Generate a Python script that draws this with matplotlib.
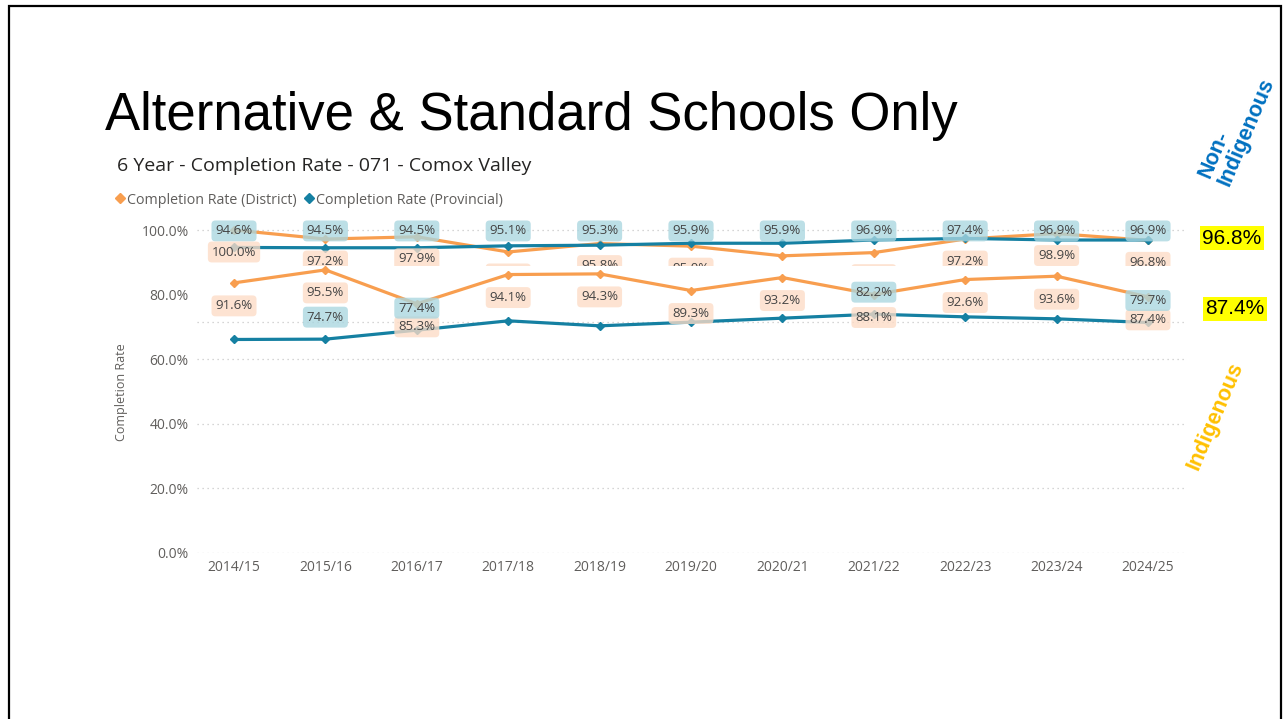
import matplotlib.pyplot as plt
from matplotlib.lines import Line2D
from matplotlib.patches import Rectangle

years = ['2014/15', '2015/16', '2016/17', '2017/18', '2018/19', '2019/20',
         '2020/21', '2021/22', '2022/23', '2023/24', '2024/25']

# Non-Indigenous chart (the one the y axis belongs to)
dist_non = [100.0, 97.2, 97.9, 93.2, 95.8, 95.0, 92.0, 93.0, 97.2, 98.9, 96.8]
prov_non = [94.6, 94.5, 94.5, 95.1, 95.3, 95.9, 95.9, 96.9, 97.4, 96.9, 96.9]

# Indigenous chart (cropped and pasted over the first one)
dist_ind = [91.6, 95.5, 85.3, 94.1, 94.3, 89.3, 93.2, 88.1, 92.6, 93.6, 87.4]
prov_ind = [74.6, 74.7, 77.4, 80.2, 78.7, 79.8, 81.0, 82.2, 81.4, 80.8, 79.7]
prov_ind_shown = [1, 2, 7, 10]   # only these labels survive Power BI's overlap check

yticks = [0, 20, 40, 60, 80, 100]

ORANGE = '#F89E4F'
BLUE = '#1580A2'
ORANGE_BOX = '#FDDCC6'
BLUE_BOX = '#A9D6E0'
GREY = '#605E5C'
GRID = '#C8C8C8'

plt.rcParams['font.family'] = ['Open Sans', 'DejaVu Sans']

W, H = 1286, 719


def box(l, t, r, b):
    return [l / W, 1 - b / H, (r - l) / W, (b - t) / H]


def tidy(a):
    for s in a.spines.values():
        s.set_visible(False)
    a.tick_params(length=0)
    a.grid(axis='y', linestyle=(0, (1, 3)), color=GRID, lw=0.9)
    a.set_axisbelow(True)


def label(a, txt, xy, dy, fc):
    a.annotate(txt, xy, xytext=(0, dy), textcoords='offset pixels',
               ha='center', va='center', fontsize=9.5, color='#444444', zorder=5,
               bbox=dict(boxstyle='round,pad=0.3', fc=fc, ec='none', alpha=0.78))


fig = plt.figure(figsize=(W / 100, H / 100), dpi=100)
x = list(range(len(years)))

# main chart
ax = fig.add_axes(box(197, 222, 1185, 553))
ax.set_xlim(-0.405, 10.405)
ax.set_ylim(0, 331 / 3.23)
tidy(ax)
ax.plot(x, dist_non, color=ORANGE, lw=2.3, marker='D', ms=4.5, zorder=3)
ax.plot(x, prov_non, color=BLUE, lw=2.3, marker='D', ms=4.5, zorder=3)
ax.set_xticks(x, years, fontsize=10, color=GREY)
ax.set_yticks(yticks, [f'{v:.1f}%' for v in yticks], fontsize=10, color=GREY)
ax.tick_params(axis='y', pad=6)
ax.tick_params(axis='x', pad=5)

top = ax.get_xaxis_transform()
for i, v in enumerate(prov_non):
    ax.text(i, 0.973, f'{v:.1f}%', transform=top, ha='center', va='center',
            fontsize=9.5, color='#444444', zorder=5,
            bbox=dict(boxstyle='round,pad=0.3', fc=BLUE_BOX, ec='none', alpha=0.78))
for i, v in enumerate(dist_non):
    label(ax, f'{v:.1f}%', (i, v), -22, ORANGE_BOX)

# pasted Indigenous strip
ax2 = fig.add_axes(box(197, 266, 1185, 345))
ax2.set_facecolor('white')
ax2.set_xlim(-0.405, 10.405)
ax2.set_ylim((587.9 - 345) / 3.33, (587.9 - 266) / 3.33)
tidy(ax2)
ax2.set_xticks([])
ax2.set_yticks([80], [''])
ax2.plot(x, dist_ind, color=ORANGE, lw=2.3, marker='D', ms=4.5, zorder=3)
ax2.plot(x, prov_ind, color=BLUE, lw=2.3, marker='D', ms=4.5, zorder=3)
for i, v in enumerate(dist_ind):
    label(ax2, f'{v:.1f}%', (i, v), -23, ORANGE_BOX)
for i in prov_ind_shown:
    label(ax2, f'{prov_ind[i]:.1f}%', (i, prov_ind[i]), 22, BLUE_BOX)

# titles, legend
fig.text(105 / W, 1 - 130 / H, 'Alternative & Standard Schools Only',
         fontsize=38, va='baseline', family='Liberation Sans')
fig.text(117 / W, 1 - 166 / H, '6 Year - Completion Rate - 071 - Comox Valley',
         fontsize=14, va='center', color='#252423')
handles = [Line2D([], [], ls='none', marker='D', ms=5.5, color=ORANGE),
           Line2D([], [], ls='none', marker='D', ms=5.5, color=BLUE)]
fig.legend(handles, ['Completion Rate (District)', 'Completion Rate (Provincial)'],
           loc='center left', bbox_to_anchor=(116 / W, 1 - 200 / H), ncol=2,
           frameon=False, fontsize=10.3, labelcolor=GREY, handlelength=0.6,
           handletextpad=0.2, columnspacing=0.5, borderaxespad=0, borderpad=0)
fig.text(122 / W, 1 - 392 / H, 'Completion Rate', rotation=90, ha='center',
         va='center', fontsize=9, color=GREY)

# slide annotations on the right
fig.text(1232 / W, 1 - 238 / H, f'{dist_non[-1]:.1f}%', ha='center', va='center',
         fontsize=15, family='Liberation Sans',
         bbox=dict(boxstyle='square,pad=0.12', fc='#FFFF00', ec='none'))
fig.text(1235 / W, 1 - 309 / H, f'{dist_ind[-1]:.1f}%', ha='center', va='center',
         fontsize=15, family='Liberation Sans',
         bbox=dict(boxstyle='square,pad=0.12', fc='#FFFF00', ec='none'))
fig.text(1237 / W, 1 - 128 / H, 'Non-\nIndigenous', rotation=67, ha='center',
         va='center', rotation_mode='anchor', multialignment='left',
         fontsize=15.5, fontweight='bold', color='#0070C0', family='Liberation Sans',
         linespacing=1.0)
fig.text(1215 / W, 1 - 416 / H, 'Indigenous', rotation=67, ha='center',
         va='center', rotation_mode='anchor', fontsize=15.5, fontweight='bold',
         color='#FFC000', family='Liberation Sans')

# slide border
fig.add_artist(Rectangle((9 / W, -0.05), 1272 / W, 1.05 - 6 / H,
                         transform=fig.transFigure, fill=False, ec='black', lw=1.6))

fig.savefig('out.png', dpi=100)
